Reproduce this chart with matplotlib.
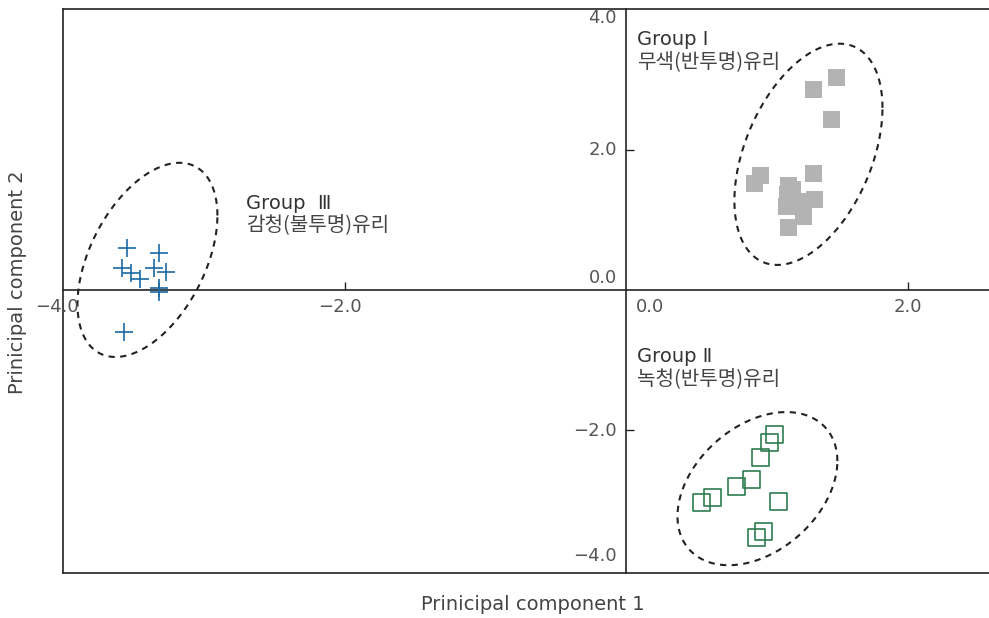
import matplotlib
matplotlib.use('Agg')
import matplotlib.pyplot as plt
import numpy as np

plt.rcParams['font.family'] = ['DejaVu Sans', 'Noto Sans CJK KR']

# Group I - 무색(반투명)유리 (gray filled squares)
g1_x = [1.497, 1.333, 1.461, 0.956, 0.913, 1.331, 1.155, 1.184, 1.148, 1.137, 1.219, 1.338, 1.260, 1.155]
g1_y = [3.039, 2.857, 2.439, 1.639, 1.524, 1.667, 1.490, 1.429, 1.357, 1.190, 1.261, 1.296, 1.047, 0.896]

# Group II - 녹청(반투명)유리 (green open squares)
g2_x = [1.051, 1.020, 0.952, 0.890, 0.785, 0.612, 0.534, 1.080, 0.973, 0.923]
g2_y = [-2.061, -2.171, -2.386, -2.710, -2.800, -2.957, -3.029, -3.024, -3.453, -3.533]

# Group III - 감청(불투명)유리 (blue plus)
g3_x = [-3.554, -3.329, -3.592, -3.525, -3.459, -3.359, -3.276, -3.329, -3.329, -3.578]
g3_y = [0.596, 0.524, 0.319, 0.239, 0.157, 0.310, 0.253, 0.024, -0.033, -0.604]

# ellipses: center x, center y, half extent x, half extent y, correlation
ell1 = (1.295, 1.936, 0.527, 1.579, 0.42)
ell2 = (0.932, -2.836, 0.569, 1.093, 0.36)
ell3 = (-3.409, 0.429, 0.498, 1.386, 0.457)

group_titles = ['Group Ⅰ', 'Group Ⅱ', 'Group  Ⅲ']
group_names = ['무색(반투명)유리', '녹청(반투명)유리', '감청(불투명)유리']


def ellipse_pts(cx, cy, sx, sy, rho, n=300):
    t = np.linspace(0, 2 * np.pi, n)
    x = cx + sx * np.cos(t)
    y = cy + sy * (rho * np.cos(t) + np.sqrt(1 - rho ** 2) * np.sin(t))
    return x, y


fig = plt.figure(figsize=(9.89, 6.18), dpi=100)
ax = fig.add_axes([63 / 989, 1 - 573 / 618, 1 - 63 / 989, (573 - 9) / 618])
ax.set_xlim(-4.01, 2.58)
ax.set_ylim(-4.04, 4.01)

axcol = '#222222'
ax.spines['left'].set_position(('data', 0))
ax.spines['bottom'].set_position(('data', 0))
ax.spines['right'].set_visible(False)
for s in ['left', 'bottom', 'top']:
    ax.spines[s].set_color(axcol)
    ax.spines[s].set_linewidth(1.2)
# outer frame on left and bottom
ax.plot([0, 0], [0, 1], transform=ax.transAxes, color=axcol, lw=1.2, clip_on=False)
ax.plot([0, 1], [0, 0], transform=ax.transAxes, color=axcol, lw=1.2, clip_on=False)

ax.set_xticks([-2, 2])
ax.set_yticks([-2, 2])
ax.set_xticklabels([])
ax.set_yticklabels([])
ax.tick_params(direction='in', length=6, width=1.0, color=axcol)

tcol = '#555555'
tfs = 13
for v, ha, dx in [(-4.0, 'center', -0.05), (-2.0, 'center', -0.04), (0.0, 'left', 0.07), (2.0, 'center', 0.0)]:
    ax.text(v + dx, -0.25, f'{v:.1f}'.replace('-', '−'), ha=ha, va='center', fontsize=tfs, color=tcol)
for v, yy in [(4.0, 3.886), (2.0, 2.0), (0.0, 0.171), (-2.0, -2.01), (-4.0, -3.8)]:
    ax.text(-0.07, yy, f'{v:.1f}'.replace('-', '−'), ha='right', va='center', fontsize=tfs, color=tcol)

# data
ax.scatter(g1_x, g1_y, marker='s', s=150, color='#b3b3b3', edgecolors='none', zorder=3)
ax.scatter(g2_x, g2_y, marker='s', s=150, facecolors='none', edgecolors='#2e7d4f', linewidths=1.2, zorder=3)
ax.scatter(g3_x, g3_y, marker='+', s=180, color='#1a6aa6', linewidths=1.2, zorder=3)

for e in [ell1, ell2, ell3]:
    ex, ey = ellipse_pts(*e)
    ax.plot(ex, ey, color='#222222', lw=1.5, linestyle=(0, (3, 2.6)))

# group labels
lab_pos = [(0.078, 3.571, 3.257), (0.078, -0.957, -1.286), (-2.705, 1.229, 0.914)]
for (lx, ly1, ly2), title, name in zip(lab_pos, group_titles, group_names):
    ax.text(lx, ly1, title, ha='left', va='center', fontsize=14, color='#333333',
            family=['DejaVu Sans', 'Noto Sans CJK KR'])
    ax.text(lx, ly2, name, ha='left', va='center', fontsize=14.5, color='#444444',
            family=['Noto Sans CJK KR', 'DejaVu Sans'])

fig.text(533 / 989, 1 - 605 / 618, 'Prinicipal component 1', ha='center', va='center', fontsize=14, color='#444444')
fig.text(18 / 989, 1 - 282 / 618, 'Prinicipal component 2', ha='center', va='center', fontsize=14,
         color='#444444', rotation=90)

fig.savefig('out.png', dpi=100)
